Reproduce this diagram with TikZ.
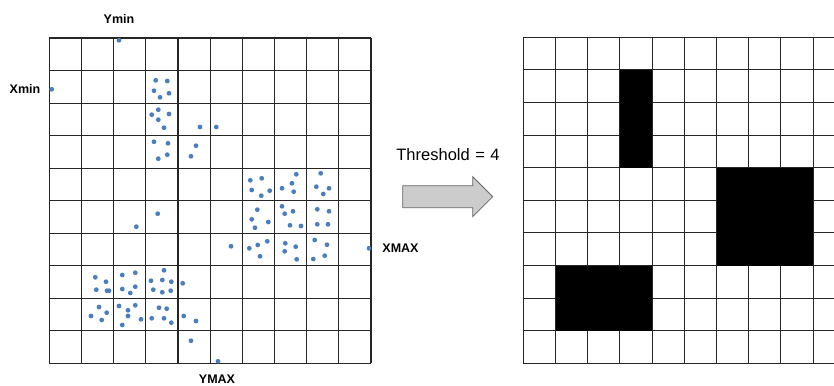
\documentclass[tikz,border=0pt]{standalone}
\usepackage{fontspec}
\setmainfont{Liberation Sans}
\begin{document}
\begin{tikzpicture}[x=1pt,y=-1pt,
  gridline/.style={draw=black!85,line width=1.1pt},
  dot/.style={fill=dotblue},
  lbl/.style={font=\fontsize{12.5}{14}\selectfont\bfseries,inner sep=0pt},
  thr/.style={font=\fontsize{16.5}{18}\selectfont,inner sep=0pt},
  bigarrow/.style={draw=black!60,fill=black!20,line width=0.8pt}]
\definecolor{dotblue}{RGB}{74,126,190}
\path[use as bounding box] (0,0) rectangle (834,385);
% left grid
\foreach \i in {0,...,10}{
  \draw[gridline] ({49.3+32.17*\i},38) -- ({49.3+32.17*\i},363.3);
  \draw[gridline] (49.3,{38+32.53*\i}) -- (371,{38+32.53*\i});
}
% right grid
\foreach \i in {0,...,9}{
  \draw[gridline] ({523.3+32.2*\i},37.3) -- ({523.3+32.2*\i},363.3);
}
\foreach \i in {0,...,10}{
  \draw[gridline] (523.3,{37.3+32.6*\i}) -- (834,{37.3+32.6*\i});
}
% right grid filled cells
\fill[black] ({523.3+32.2*3},{37.3+32.6*1}) rectangle ({523.3+32.2*4},{37.3+32.6*4});
\fill[black] ({523.3+32.2*6},{37.3+32.6*4}) rectangle ({523.3+32.2*9},{37.3+32.6*7});
\fill[black] ({523.3+32.2*1},{37.3+32.6*7}) rectangle ({523.3+32.2*4},{37.3+32.6*9});
% dots
\foreach \x/\y in {
 119/40.3, 51.7/89.3, 155.7/80.3, 167.3/81, 154/90.7, 169/93.3, 160/97.3,
 158.3/109.7, 151.7/114.7, 169/114, 158.3/119.7, 164/127.7, 200/127, 216.3/127,
 154/141.7, 168/143.3, 196/145.7, 167.3/154.7, 158.3/158.7, 191/156.3,
 157.7/213.7, 136.3/226.7,
 95.3/277.3, 106/281.7, 96.3/289.7, 107/290.7, 109/290.7, 122.3/275, 135.3/272.7,
 122.3/289, 135.3/286.7, 130.3/293, 164/270.3, 151/280.7, 162.3/280, 171.3/281.7,
 182.7/283.3, 153.3/289.7, 162.3/292.3, 170.7/290.7,
 99/307, 91/316, 106.7/312.7, 101.7/320, 119/306, 128/310.3, 135.3/305.3, 128/316,
 122.3/325, 141/319.3, 159/307.7, 166.7/308.7, 151.7/318.3, 164/318.3, 171.3/322.7,
 183.7/316, 196/321, 191/340.7, 218/361.3,
 250.3/180.3, 261.7/178.3, 251.7/190, 261.3/195.7, 269.7/190.7, 296.3/174.3,
 292/183.3, 282/188.3, 293.7/191.7, 320.7/173.3, 316.3/186.7, 329/188.3, 323.3/194,
 257.3/209.7, 251.7/219.3, 268.3/222, 255/227.7, 282/206.3, 284.7/213.7, 293/211.3,
 290/225.3, 301/226, 317.3/209.3, 329/211.3, 317.3/224.3, 328/224.3,
 231/246.3, 249.3/248.3, 257.7/245, 267.3/241.3, 260/256.3, 285.3/243.3, 295.7/246.7,
 284.7/251.3, 296.7/259.3, 314.7/240, 327/244.7, 313.3/259, 324.7/255.7, 369/248.3}
{ \fill[dot] (\x,\y) circle (2.4); }
% labels
\node[lbl] (ymin) at (119,18.5) {Ymin};
\node[lbl] (xmin) at (25,88.5) {Xmin};
\node[lbl] (ymax) at (217,379) {YMAX};
\node[lbl] (xmax) at (400.5,248) {XMAX};
\node[thr] (thr) at (448,154.5) {Threshold\,\,=\,\,4};
% arrow
\draw[bigarrow] (402.7,185.7) -- (472.7,185.7) -- (472.7,176.7) -- (492.7,196.7)
  -- (472.7,216.7) -- (472.7,207.7) -- (402.7,207.7) -- cycle;
\end{tikzpicture}
\end{document}
